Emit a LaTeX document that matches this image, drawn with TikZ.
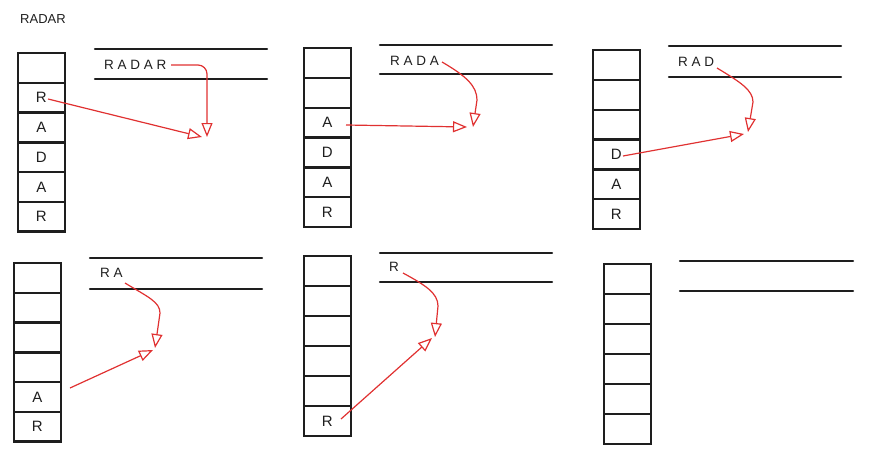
\documentclass[tikz,border=0pt]{standalone}
\usepackage{fontspec}
\setmainfont{Liberation Sans}
\usetikzlibrary{arrows.meta}
\definecolor{exred}{HTML}{E03131}
\definecolor{ink}{HTML}{1E1E1E}
\begin{document}
\begin{tikzpicture}[x=1pt,y=-1pt,
  cell/.style={draw=ink, line width=2.3pt, minimum width=46.5pt, minimum height=29.8pt, inner sep=0pt, anchor=north west, text=ink, font=\fontsize{15}{17}\selectfont},
  bar/.style={draw=ink, line width=2.3pt, line cap=round},
  lbl/.style={font=\fontsize{13.5}{16}\selectfont, inner sep=0pt, anchor=west, text=ink},
  ttl/.style={font=\fontsize{13}{15}\selectfont, inner sep=0pt, anchor=west, text=ink},
  link/.style={draw=exred, line width=1.2pt, -{Triangle[open, length=14pt, width=11pt, line width=1.2pt]}},
]
\useasboundingbox (0,0) rectangle (869,452);

% title
\node[ttl] (title) at (20,19) {RADAR};

% ---------- panel 1
\foreach \i/\t in {1/,2/R,3/A,4/D,5/A,6/R}
  \node[cell] (a\i) at (17,{52+(\i-1)*29.7}) {\t};
\draw[bar] (95,49) -- (267,49);
\draw[bar] (95,79) -- (267,79);
\node[lbl] (qa) at (104,64.5) {R A D A R};
\coordinate (a-s) at (48,99);
\coordinate (a-t) at (202,137);
\coordinate (qa-s) at (171,65);
\coordinate (qa-t) at (207,137);
\draw[link] (a-s) -- (a-t);
\draw[link, rounded corners=9pt] (qa-s) -| (qa-t);

% ---------- panel 2
\foreach \i/\t in {1/,2/,3/A,4/D,5/A,6/R}
  \node[cell] (b\i) at (303,{47+(\i-1)*29.8}) {\t};
\draw[bar] (380,45) -- (552,45);
\draw[bar] (380,74) -- (552,74);
\node[lbl] (qb) at (390,61) {R A D A};
\coordinate (b-s) at (346,125);
\coordinate (b-t) at (467,127);
\coordinate (qb-s) at (442,62);
\coordinate (qb-m) at (477,100);
\coordinate (qb-t) at (473,127);
\draw[link] (b-s) -- (b-t);
\draw[link] (qb-s) .. controls (466,76) and (477,86) .. (qb-m) -- (qb-t);

% ---------- panel 3
\foreach \i/\t in {1/,2/,3/,4/D,5/A,6/R}
  \node[cell] (c\i) at (592,{49+(\i-1)*29.8}) {\t};
\draw[bar] (669,46) -- (841,46);
\draw[bar] (669,77) -- (841,77);
\node[lbl] (qc) at (678,62) {R A D};
\coordinate (c-s) at (623,156);
\coordinate (c-t) at (744,134);
\coordinate (qc-s) at (717,68);
\coordinate (qc-m) at (753,102);
\coordinate (qc-t) at (748,132);
\draw[link] (c-s) -- (c-t);
\draw[link] (qc-s) .. controls (740,82) and (753,90) .. (qc-m) -- (qc-t);

% ---------- panel 4
\foreach \i/\t in {1/,2/,3/,4/,5/A,6/R}
  \node[cell] (d\i) at (13,{262+(\i-1)*29.7}) {\t};
\draw[bar] (90,258) -- (262,258);
\draw[bar] (90,289) -- (262,289);
\node[lbl] (qd) at (100,273) {R A};
\coordinate (d-s) at (70,388);
\coordinate (d-t) at (153,350);
\coordinate (qd-s) at (125,283);
\coordinate (qd-m) at (160,313);
\coordinate (qd-t) at (155,348);
\draw[link] (d-s) -- (d-t);
\draw[link] (qd-s) .. controls (148,297) and (160,302) .. (qd-m) -- (qd-t);

% ---------- panel 5
\foreach \i/\t in {1/,2/,3/,4/,5/,6/R}
  \node[cell] (e\i) at (303,{255+(\i-1)*30}) {\t};
\draw[bar] (380,253) -- (552,253);
\draw[bar] (380,282) -- (552,282);
\node[lbl] (qe) at (389,267) {R};
\coordinate (e-s) at (341,419);
\coordinate (e-t) at (432,338);
\coordinate (qe-s) at (403,273);
\coordinate (qe-m) at (438,306);
\coordinate (qe-t) at (435,337);
\draw[link] (e-s) -- (e-t);
\draw[link] (qe-s) .. controls (425,285) and (438,293) .. (qe-m) -- (qe-t);

% ---------- panel 6
\foreach \i in {1,...,6}
  \node[cell] (f\i) at (603,{263+(\i-1)*30}) {};
\draw[bar] (680,261) -- (853,261);
\draw[bar] (680,291) -- (853,291);
\end{tikzpicture}
\end{document}
